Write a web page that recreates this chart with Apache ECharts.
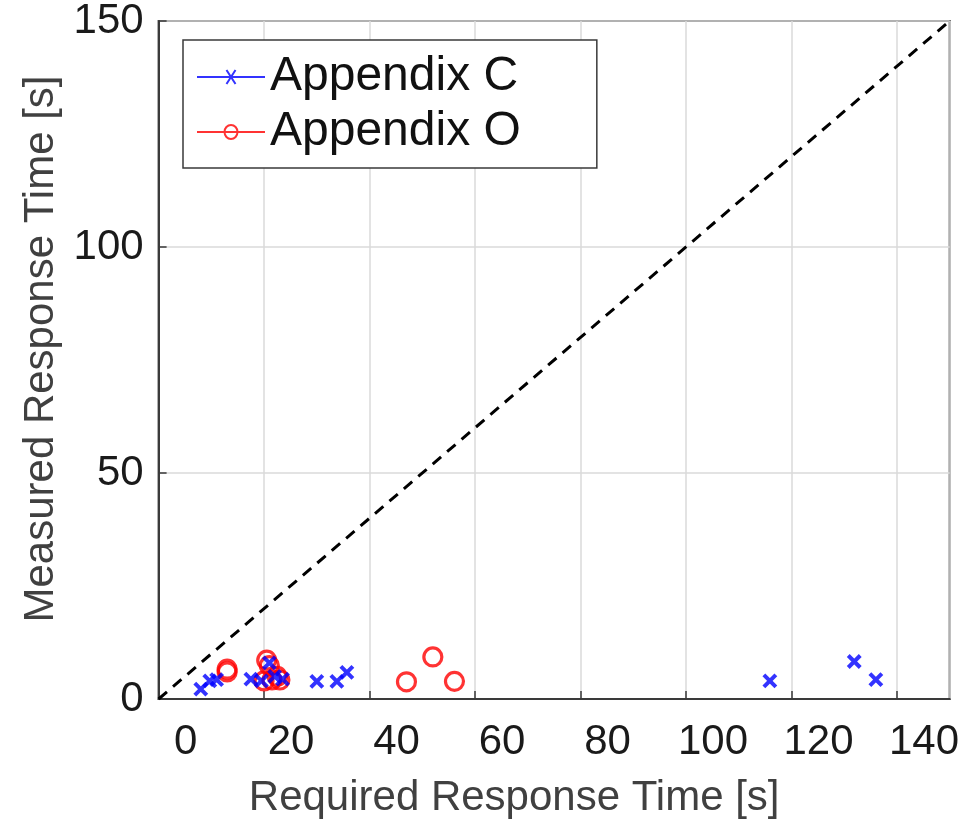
<!DOCTYPE html>
<html>
<head>
<meta charset="utf-8">
<script src="https://cdn.jsdelivr.net/npm/echarts@6/dist/echarts.min.js"></script>
<style>
html,body{margin:0;padding:0;background:#fff;}
#chart{width:962px;height:824px;}
</style>
</head>
<body>
<div id="chart"></div>
<script>
// ---- data ----
const seriesNames = ['Appendix C', 'Appendix O'];
const appendixC_x = [8, 9.7, 11, 17.5, 19.5, 21, 22, 23.5, 30, 33.8, 35.7, 115.9, 131.9, 136];
const appendixC_y = [2.2, 4.0, 4.3, 4.4, 4.0, 8.0, 5.0, 4.4, 3.9, 3.9, 5.9, 4.0, 8.3, 4.3];
const appendixO_x = [13, 13, 20.5, 21, 20, 21.5, 22.5, 23, 47, 52, 56.1];
const appendixO_y = [6.6, 6.0, 8.6, 7.4, 4.0, 4.2, 5.0, 4.2, 3.8, 9.3, 3.9];
const refLine_x = [0, 150];
const refLine_y = [0, 150];
const xTicks = [0, 20, 40, 60, 80, 100, 120, 140];
const yTicks = [0, 50, 100, 150];
const xTitle = 'Required Response Time [s]';
const yTitle = 'Measured Response Time [s]';

const zip = (a, b) => a.map((v, i) => [v, b[i]]);
const FONT = '"Liberation Sans", Arial, Helvetica, sans-serif';
const iconC = 'path://M0,7L68,7M29.5,1.5L38.5,12.5M38.5,1.5L29.5,12.5';
const iconO = 'path://M0,7L68,7M27.5,7A6.5,6.5 0 1 1 40.5,7A6.5,6.5 0 1 1 27.5,7';

const chart = echarts.init(document.getElementById('chart'), null, {renderer: 'canvas'});
chart.setOption({
  animation: false,
  backgroundColor: '#ffffff',
  grid: {
    left: 158.6, right: 6, top: 18, bottom: 124,
    show: true, borderColor: '#3a3a3a', borderWidth: 2, backgroundColor: 'transparent'
  },
  legend: {
    data: [
      {name: seriesNames[0], icon: iconC, itemStyle: {color: 'rgba(0,0,0,0)', borderColor: '#0000ff', borderWidth: 2}},
      {name: seriesNames[1], icon: iconO, itemStyle: {color: 'rgba(0,0,0,0)', borderColor: '#ff0000', borderWidth: 2}}
    ],
    orient: 'vertical',
    left: 183, top: 40,
    padding: [13, 76, 12, 13],
    itemGap: 7,
    itemWidth: 68, itemHeight: 14,
    symbolKeepAspect: false,
    borderColor: '#3a3a3a', borderWidth: 1.5,
    backgroundColor: '#ffffff',
    selectedMode: false,
    textStyle: {fontSize: 48, color: '#111', fontFamily: FONT, lineHeight: 48}
  },
  xAxis: {
    type: 'value', min: 0, max: 150, interval: 20,
    name: xTitle, nameLocation: 'middle', nameGap: 78,
    nameTextStyle: {fontSize: 42, color: '#404040', fontFamily: FONT, padding: [0, 80, 0, 0]},
    axisLine: {show: true, lineStyle: {color: '#3a3a3a', width: 2}},
    axisTick: {show: true, inside: true, length: 8, lineStyle: {color: '#3a3a3a', width: 1.5}},
    axisLabel: {
      fontSize: 42, color: '#1a1a1a', fontFamily: FONT, margin: 22,
      showMaxLabel: false, padding: [0, 0, 0, 54],
      formatter: v => (xTicks.indexOf(v) >= 0 ? String(v) : '')
    },
    splitLine: {show: true, lineStyle: {color: '#dadada', width: 1.5}}
  },
  yAxis: {
    type: 'value', min: 0, max: 150, interval: 50,
    name: yTitle, nameLocation: 'middle', nameGap: 90,
    nameTextStyle: {fontSize: 42, color: '#404040', fontFamily: FONT, padding: [0, 0, 0, 22]},
    axisLine: {show: true, lineStyle: {color: '#3a3a3a', width: 2}},
    axisTick: {show: true, inside: true, length: 8, lineStyle: {color: '#3a3a3a', width: 1.5}},
    axisLabel: {
      fontSize: 42, color: '#1a1a1a', fontFamily: FONT, margin: 15,
      padding: [30, 0, 0, 0],
      formatter: v => (yTicks.indexOf(v) >= 0 ? String(v) : '')
    },
    splitLine: {show: true, lineStyle: {color: '#dadada', width: 1.5}}
  },
  series: [
    {
      name: 'ref', type: 'line', data: zip(refLine_x, refLine_y),
      symbol: 'none', silent: true, z: 1,
      lineStyle: {color: '#000', width: 3, type: [11, 8]}
    },
    {
      name: seriesNames[0], type: 'scatter', data: zip(appendixC_x, appendixC_y),
      symbol: 'path://M0,0L10,10M10,0L0,10', symbolSize: 12,
      itemStyle: {color: 'rgba(0,0,0,0)', borderColor: '#0000ff', borderWidth: 4},
      emphasis: {disabled: true}, z: 3
    },
    {
      name: seriesNames[1], type: 'scatter', data: zip(appendixO_x, appendixO_y),
      symbol: 'circle', symbolSize: 18,
      itemStyle: {color: 'rgba(0,0,0,0)', borderColor: '#ff0000', borderWidth: 3.2},
      emphasis: {disabled: true}, z: 2
    }
  ]
});
</script>
</body>
</html>
